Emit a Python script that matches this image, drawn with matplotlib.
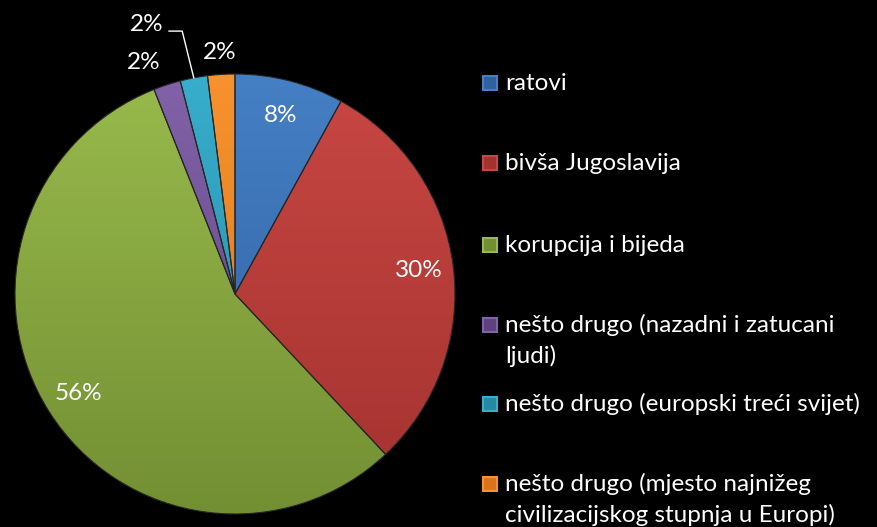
import numpy as np
import matplotlib
matplotlib.use('Agg')
import matplotlib.pyplot as plt
from matplotlib.colors import LinearSegmentedColormap
from matplotlib.patches import Rectangle

# ---------- data ----------
categories = ['ratovi', 'bivša Jugoslavija', 'korupcija i bijeda',
              'nešto drugo (nazadni i zatucani\nljudi)',
              'nešto drugo (europski treći svijet)',
              'nešto drugo (mjesto najnižeg\ncivilizacijskog stupnja u Europi)']
values = [8, 30, 56, 2, 2, 2]
pct_labels = ['8%', '30%', '56%', '2%', '2%', '2%']

# top / bottom colours of each wedge gradient
light = ['#457FC4', '#C84743', '#98BA4C', '#8262A8', '#38ADCC', '#F7922E']
dark = ['#2F609F', '#A3322F', '#738F33', '#5E4280', '#2589A4', '#D9741C']

W, H = 877, 527
FS = 17.5
plt.rcParams['font.family'] = ['Lato', 'DejaVu Sans']

fig = plt.figure(figsize=(W / 100, H / 100), dpi=100, facecolor='black')

# pie axes: centre (235, 294) px, radius 220 px
cx, cy, r = 235, 294, 220
ax = fig.add_axes([(cx - r) / W, (H - cy - r) / H, 2 * r / W, 2 * r / H])
ax.set_facecolor('black')
ax.axis('off')

wedges, _ = ax.pie(values, startangle=90, counterclock=False, radius=1,
                   wedgeprops=dict(linewidth=0.8, edgecolor='#262626'))
ax.set_xlim(-1, 1)
ax.set_ylim(-1, 1)

grad = np.linspace(0, 1, 256).reshape(-1, 1)
for w, c1, c2 in zip(wedges, light, dark):
    w.set_facecolor('none')
    cmap = LinearSegmentedColormap.from_list('g', [c1, c2])
    im = ax.imshow(grad, cmap=cmap, extent=(-1, 1, -1, 1), origin='upper',
                   aspect='auto', zorder=0.5)
    im.set_clip_path(w)


def mid_angle(w):
    return np.deg2rad((w.theta1 + w.theta2) / 2)


# percentage labels on the big slices
for w, v, lab in zip(wedges, values, pct_labels):
    if v >= 5:
        a = mid_angle(w)
        ax.text(0.84 * np.cos(a), 0.84 * np.sin(a), lab, color='white',
                fontsize=FS, ha='center', va='center')

# small slices (purple, cyan, orange)
a = mid_angle(wedges[3]) + np.deg2rad(3.5)
ax.text(1.13 * np.cos(a), 1.13 * np.sin(a), pct_labels[3], color='white',
        fontsize=FS, ha='center', va='center')
a = mid_angle(wedges[5])
ax.text(1.1 * np.cos(a), 1.1 * np.sin(a), pct_labels[5], color='white',
        fontsize=FS, ha='center', va='center')
a = mid_angle(wedges[4])
ax.text(-0.325, 1.225, pct_labels[4], color='white', fontsize=FS,
        ha='right', va='center')
ax.plot([-0.3, -0.24, np.cos(a)], [1.195, 1.195, np.sin(a)],
        color='white', lw=1, clip_on=False)

# ---------- legend (pixel coordinates) ----------
lax = fig.add_axes([0, 0, 1, 1])
lax.set_xlim(0, W)
lax.set_ylim(H, 0)
lax.axis('off')
legend_y = [83, 163, 245, 325, 404, 484]
line_h = 31
for lab, y, c1, c2 in zip(categories, legend_y, light, dark):
    lax.add_patch(Rectangle((483, y - 7), 14, 14, facecolor=c2,
                            edgecolor=c1, lw=1.5))
    for k, line in enumerate(lab.split('\n')):
        lax.text(505, y + k * line_h, line, color='white', fontsize=FS,
                 ha='left', va='center')

fig.savefig('out.png', dpi=100, facecolor='black')
